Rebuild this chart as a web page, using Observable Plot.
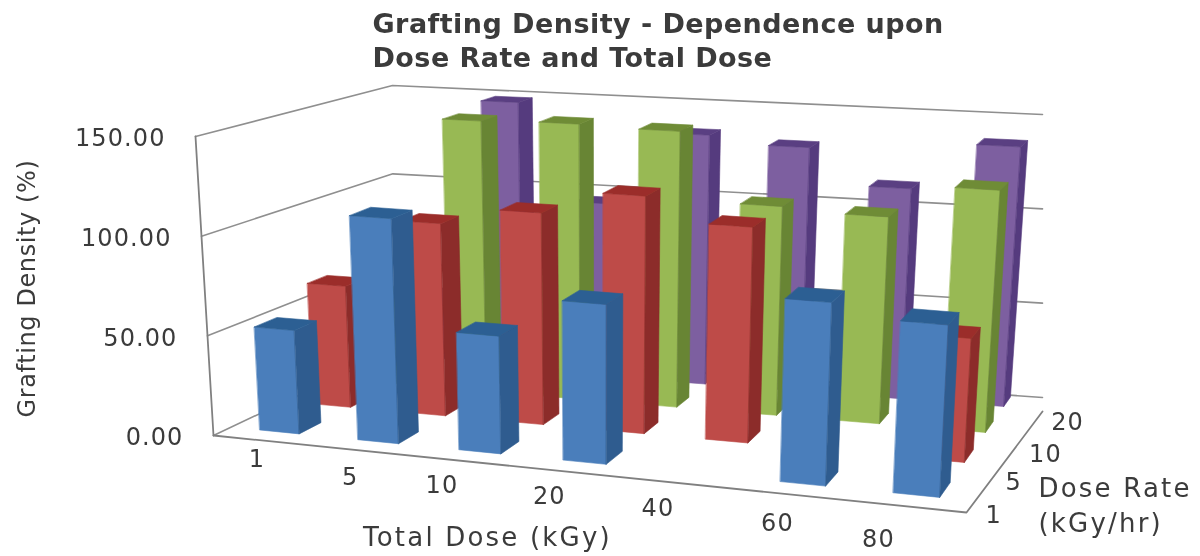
<!DOCTYPE html>
<html><head><meta charset="utf-8">
<script src="https://cdn.jsdelivr.net/npm/d3@7"></script>
<script src="https://cdn.jsdelivr.net/npm/@observablehq/plot@0.6"></script>
<style>html,body{margin:0;padding:0;background:#fff}svg{display:block;filter:blur(.45px)}
.ticks text{letter-spacing:1.1px}.title text{letter-spacing:.45px}.axt text{letter-spacing:2.2px}.axv text{letter-spacing:.6px}</style>
</head><body><div id="chart"></div>
<script>
const doses = ["1","5","10","20","40","60","80"];
const rates = ["1","5","10","20"];
const yTicks = [0,50,100,150];
const rate1  = [52,112,58,78,0,88,82];
const rate5  = [63,99,108,120,108,0,61];
const rate10 = [48,144,145,144,108,106,123];
const rate20 = [38,147,94,134,130,111,136];
const seriesValues = [rate1,rate5,rate10,rate20];
const frontColors = ["#4A7EBB","#BE4B48","#98B954","#7D5FA0"];
const sideColors  = ["#2F5C8F","#8C2C2A","#688534","#553B7E"];
const topColors   = ["#2C5F93","#9B2D2A","#6F8C36","#5A3F82"];
const doseNudgeX = [-1,0,-6,-2,-3,0,-23];
const doseNudgeY = [19,28,26,26,27,30,33];
const rateNudgeX = [16,15,28,33];
const rateNudgeY = [20,19,19,13];

// camera: the box's floor and ceiling corners (front-left, front-right, back-right, back-left)
const floorQuad = [[213,435],[966,512],[1042,397],[393,350]];
const ceilQuad  = [[195,136],[980,193],[1042,114],[392,85]];
const maxV = 150, barFrac = .405, vanishX = 600, lean = .0465;

function homography(q){
  const [[x0,y0],[x1,y1],[x2,y2],[x3,y3]] = q;
  const dx1=x1-x2,dx2=x3-x2,sx=x0-x1+x2-x3,dy1=y1-y2,dy2=y3-y2,sy=y0-y1+y2-y3;
  const den=dx1*dy2-dx2*dy1, g=(sx*dy2-dx2*sy)/den, h=(dx1*sy-sx*dy1)/den;
  const a=x1-x0+g*x1,b=x3-x0+h*x3,d=y1-y0+g*y1,e=y3-y0+h*y3;
  return (u,v)=>{const w=g*u+h*v+1;return [(a*u+b*v+x0)/w,(d*u+e*v+y0)/w];};
}
const H0=homography(floorQuad),H1=homography(ceilQuad);
function proj(u,v,val){const p=H0(u,v),t=H1(u,v),k=val/maxV;return [p[0]+(t[0]-p[0])*k,p[1]+(t[1]-p[1])*k];}
function pb(u,v,val){
  const uu=u+(.11-.06*v)*u*(1-u), vv=v+.09*v*(1.6-v);
  const p=H0(uu,vv),t=H1(uu,vv),k=val/maxV;
  return [p[0]+(p[0]-vanishX)*lean*k,p[1]+(t[1]-p[1])*k];
}

const faces=[];
function face(id,color,pts){pts.forEach(p=>faces.push({id,color,x:p[0],y:p[1]}));}
for(let r=rates.length-1;r>=0;r--){
  const v0=(r+.5-barFrac/2)/rates.length,v1=(r+.5+barFrac/2)/rates.length;
  doses.forEach((dose,i)=>{
    const val=seriesValues[r][i]; if(!val) return;
    const u0=(i+.5-barFrac/2)/doses.length,u1=(i+.5+barFrac/2)/doses.length,id=r+"-"+i;
    face(id+"f",frontColors[r],[pb(u0,v0,0),pb(u1,v0,0),pb(u1,v0,val),pb(u0,v0,val)]);
    face(id+"s",sideColors[r],[pb(u1,v0,0),pb(u1,v1,0),pb(u1,v1,val),pb(u1,v0,val)]);
    face(id+"t",topColors[r],[pb(u0,v0,val),pb(u1,v0,val),pb(u1,v1,val),pb(u0,v1,val)]);
  });
}
const grid=[];
yTicks.forEach(t=>{[[0,0],[0,1],[1,1]].forEach(([u,v])=>{const p=proj(u,v,t);grid.push({t,x:p[0],y:p[1]});});});
const frame=[[0,0,0],[0,0,maxV]].map(a=>proj(...a)).map(p=>({x:p[0],y:p[1]}));
const floorEdge=[[0,0],[1,0]].map(a=>proj(a[0],a[1],0)).concat([[1042,411]]).map(p=>({x:p[0],y:p[1]}));

const tickLabels=yTicks.map(t=>{const p=proj(0,0,t);return {x:p[0]-30,y:p[1]+2,text:t.toFixed(2)};});
const doseLabels=doses.map((d,i)=>{const p=proj((i+.5)/doses.length,0,0);return {x:p[0]+doseNudgeX[i],y:p[1]+doseNudgeY[i],text:d};});
const rateLabels=rates.map((d,i)=>{const p=proj(1,(i+.5)/rates.length,0);return {x:p[0]+rateNudgeX[i],y:p[1]+rateNudgeY[i],text:d};});
const titleLines=[{x:372,y:24,text:"Grafting Density - Dependence upon"},{x:372,y:58,text:"Dose Rate and Total Dose"}];
const xTitle=[{x:487,y:537,text:"Total Dose (kGy)"}];
const yTitle=[{x:27,y:288,text:"Grafting Density (%)"}];
const zTitle=[{x:1038,y:488,text:"Dose Rate"},{x:1038,y:523,text:"(kGy/hr)"}];
const ink="#3b3b3b",font="'DejaVu Sans',sans-serif";

document.getElementById("chart").append(Plot.plot({
  width:1200,height:556,margin:0,
  x:{type:"identity",axis:null},y:{type:"identity",axis:null},
  style:{background:"#fff",fontFamily:font},
  marks:[
    Plot.line(grid,{x:"x",y:"y",z:"t",stroke:"#8f8f8f",strokeWidth:1.6}),
    Plot.line(frame,{x:"x",y:"y",stroke:"#808080",strokeWidth:1.8}),
    Plot.line(floorEdge,{x:"x",y:"y",stroke:"#808080",strokeWidth:1.8}),
    Plot.line(faces,{x:"x",y:"y",z:"id",fill:"color",stroke:"color",strokeWidth:.6,curve:"linear-closed"}),
    Plot.text(tickLabels,{x:"x",y:"y",text:"text",textAnchor:"end",fontSize:24,fill:ink,className:"ticks"}),
    Plot.text(doseLabels,{x:"x",y:"y",text:"text",fontSize:24,fill:ink,className:"ticks"}),
    Plot.text(rateLabels,{x:"x",y:"y",text:"text",fontSize:24,fill:ink,className:"ticks"}),
    Plot.text(titleLines,{x:"x",y:"y",text:"text",textAnchor:"start",fontSize:27,fontWeight:"bold",fill:ink,className:"title"}),
    Plot.text(xTitle,{x:"x",y:"y",text:"text",fontSize:26,fill:ink,className:"axt"}),
    Plot.text(zTitle,{x:"x",y:"y",text:"text",textAnchor:"start",fontSize:26,fill:ink,className:"axt"}),
    Plot.text(yTitle,{x:"x",y:"y",text:"text",rotate:-90,fontSize:24,fill:ink,className:"axv"})
  ]
}));
</script></body></html>
